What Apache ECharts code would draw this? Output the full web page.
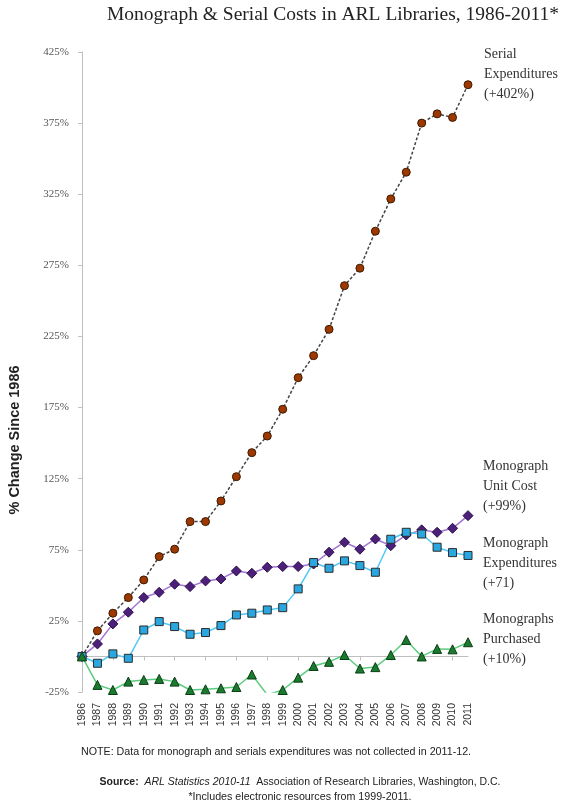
<!DOCTYPE html>
<html>
<head>
<meta charset="utf-8">
<script src="https://cdn.jsdelivr.net/npm/echarts@6/dist/echarts.min.js"></script>
<style>
html,body{margin:0;padding:0;background:#fff;}
#c{width:567px;height:804px;}
</style>
</head>
<body>
<div id="c"></div>
<script>
var years = ['1986','1987','1988','1989','1990','1991','1992','1993','1994','1995','1996','1997','1998','1999','2000','2001','2002','2003','2004','2005','2006','2007','2008','2009','2010','2011'];
var serialExp = [0,18,30.4,41.4,53.8,70.2,75.4,94.8,94.8,109.3,126.4,143.3,155,173.8,196,211.5,230,260.7,273,299,321.7,340.5,375,381.5,379,402];
var unitCost = [0,8.8,22.9,31.1,41.4,45.1,50.8,49.1,53.1,54.5,60.1,58.5,62.7,63.2,63.2,65,73.3,80.3,75.4,82.6,77.9,85.4,89,87.3,90.1,99];
var monoExp = [0,-4.8,1.8,-1.3,18.6,24.5,21,15.6,16.8,21.7,29.2,30.4,32.7,34.3,47.5,66,62,67.2,63.9,59.2,82.4,87.3,86.1,76.8,73,71];
var purchased = [0,-20,-23.6,-17.7,-16.5,-15.8,-17.7,-23.6,-23.1,-22.4,-21.5,-12.7,-27,-23.6,-14.9,-6.7,-3.8,1,-8.5,-7.5,1,11.6,0,5.3,5,10];
var yTicks = {min: -25, max: 425, interval: 50};

var serifFont = 'Liberation Serif';
var sansFont = 'Liberation Sans';
var labelStyle = {fontFamily: serifFont, fontSize: 14, lineHeight: 20, color: '#333', align: 'left'};

var chart = echarts.init(document.getElementById('c'), null, {renderer: 'canvas'});
chart.setOption({
  animation: false,
  backgroundColor: '#fff',
  grid: {left: 82, right: 99, top: 52, bottom: 112},
  xAxis: [{
    type: 'category', data: years, boundaryGap: false,
    axisLine: {show: false, onZero: false},
    axisTick: {show: false},
    splitLine: {show: false},
    axisLabel: {rotate: 90, interval: 0, margin: 11, fontFamily: sansFont, fontSize: 10.5, color: '#333'}
  }, {
    type: 'category', data: years, boundaryGap: false, position: 'bottom',
    axisLine: {show: true, onZero: true, lineStyle: {color: '#bfbfbf', width: 1}},
    axisTick: {show: true, interval: 1, length: 4, lineStyle: {color: '#bfbfbf'}},
    axisLabel: {show: false},
    splitLine: {show: false}
  }],
  yAxis: {
    type: 'value', min: yTicks.min, max: yTicks.max, interval: yTicks.interval,
    axisLine: {show: true, lineStyle: {color: '#bfbfbf', width: 1}},
    axisTick: {show: true, length: 4, lineStyle: {color: '#bfbfbf'}},
    splitLine: {show: false},
    axisLabel: {margin: 13, fontFamily: serifFont, fontSize: 11, color: '#555', formatter: function (v) { return v + '%'; }}
  },
  series: [{
    name: 'Serial Expenditures', type: 'line', data: serialExp, xAxisIndex: 0,
    symbol: 'circle', symbolSize: 8,
    itemStyle: {color: '#9c3800', borderColor: '#3d1a00', borderWidth: 1},
    lineStyle: {color: '#444', width: 1.5, type: [3, 2]},
    endLabel: Object.assign({show: true, formatter: 'Serial\nExpenditures\n(+402%)', distance: 16, offset: [0, -10]}, labelStyle)
  }, {
    name: 'Monograph Unit Cost', type: 'line', data: unitCost, xAxisIndex: 0,
    symbol: 'diamond', symbolSize: 10,
    itemStyle: {color: '#4b1f7a', borderColor: '#2a0f45', borderWidth: 1},
    lineStyle: {color: '#a374d5', width: 1.5},
    endLabel: Object.assign({show: true, formatter: 'Monograph\nUnit Cost\n(+99%)', distance: 15, offset: [0, -29]}, labelStyle)
  }, {
    name: 'Monograph Expenditures', type: 'line', data: monoExp, xAxisIndex: 0,
    symbol: 'rect', symbolSize: 8,
    itemStyle: {color: '#2aa7e0', borderColor: '#2b2b2b', borderWidth: 1},
    lineStyle: {color: '#4fc8f5', width: 1.5},
    endLabel: Object.assign({show: true, formatter: 'Monograph\nExpenditures\n(+71)', distance: 15, offset: [0, 8]}, labelStyle)
  }, {
    name: 'Monographs Purchased', type: 'line', data: purchased, xAxisIndex: 0,
    symbol: 'triangle', symbolSize: 9,
    itemStyle: {color: '#1a7a2e', borderColor: '#0b3d15', borderWidth: 1},
    lineStyle: {color: '#5ccb7e', width: 1.5},
    clip: true,
    endLabel: Object.assign({show: true, formatter: 'Monographs\nPurchased\n(+10%)', distance: 15, offset: [0, -3]}, labelStyle)
  }],
  graphic: [{
    type: 'text', x: 333, y: 15,
    style: {text: 'Monograph & Serial Costs in ARL Libraries, 1986-2011*', fontFamily: serifFont, fontSize: 19.5, fill: '#222', textAlign: 'center', textVerticalAlign: 'middle'}
  }, {
    type: 'text', x: 15, y: 440, rotation: Math.PI / 2,
    style: {text: '% Change Since 1986', fontFamily: sansFont, fontSize: 14.5, fontWeight: 'bold', fill: '#222', textAlign: 'center', textVerticalAlign: 'middle'}
  }, {
    type: 'text', x: 276, y: 752,
    style: {text: 'NOTE: Data for monograph and serials expenditures was not collected in 2011-12.', fontFamily: sansFont, fontSize: 10.7, fill: '#222', textAlign: 'center', textVerticalAlign: 'middle'}
  }, {
    type: 'text', x: 300, y: 782,
    style: {
      text: '{b|Source:}  {i|ARL Statistics 2010-11}  Association of Research Libraries, Washington, D.C.',
      fontFamily: sansFont, fontSize: 10.5, fill: '#222', textAlign: 'center', textVerticalAlign: 'middle',
      rich: {b: {fontWeight: 'bold', fontFamily: sansFont, fontSize: 10.5, fill: '#222'}, i: {fontStyle: 'italic', fontFamily: sansFont, fontSize: 10.5, fill: '#222'}}
    }
  }, {
    type: 'text', x: 300, y: 797,
    style: {text: '*Includes electronic resources from 1999-2011.', fontFamily: sansFont, fontSize: 10.7, fill: '#222', textAlign: 'center', textVerticalAlign: 'middle'}
  }]
});
</script>
</body>
</html>
